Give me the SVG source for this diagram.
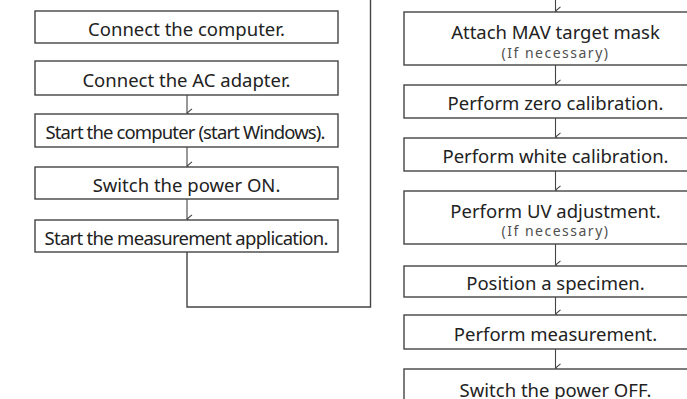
<svg xmlns="http://www.w3.org/2000/svg" width="687" height="399" viewBox="0 0 687 399">
<defs>
<marker id="ah" markerWidth="10" markerHeight="8" refX="5" refY="7" orient="auto" markerUnits="userSpaceOnUse" viewBox="0 0 10 8">
<path d="M0.8,2 L5,7 L9.2,2" fill="none" stroke="#444" stroke-width="1.1"/>
</marker>
</defs>
<style>
.box{fill:#fff;stroke:#444;stroke-width:1.4}
.t{font-family:"Noto Sans",sans-serif;font-size:18.5px;fill:#222;text-anchor:middle}
.s{font-family:"Noto Sans",sans-serif;font-size:14px;fill:#505050;text-anchor:middle;letter-spacing:1.5px}
.c{fill:none;stroke:#444;stroke-width:1.1}
.l{fill:none;stroke:#444;stroke-width:1.4}
</style>
<rect width="687" height="399" fill="#fff"/>
<g id="connectors">
<line class="c" x1="187" y1="95" x2="187" y2="113" marker-end="url(#ah)"/>
<line class="c" x1="187" y1="147" x2="187" y2="166" marker-end="url(#ah)"/>
<line class="c" x1="187" y1="199" x2="187" y2="219" marker-end="url(#ah)"/>
<polyline class="l" points="187,252 187,307 370.5,307 370.5,0"/>
<line class="c" x1="555.5" y1="0" x2="555.5" y2="11" marker-end="url(#ah)"/>
<line class="c" x1="555.5" y1="65" x2="555.5" y2="84" marker-end="url(#ah)"/>
<line class="c" x1="555.5" y1="118" x2="555.5" y2="137" marker-end="url(#ah)"/>
<line class="c" x1="555.5" y1="171" x2="555.5" y2="190" marker-end="url(#ah)"/>
<line class="c" x1="555.5" y1="244" x2="555.5" y2="265" marker-end="url(#ah)"/>
<line class="c" x1="555.5" y1="297" x2="555.5" y2="314" marker-end="url(#ah)"/>
<line class="c" x1="555.5" y1="349" x2="555.5" y2="368" marker-end="url(#ah)"/>
</g>
<g id="n1"><rect class="box" x="35" y="11" width="303" height="32"/><text class="t" x="186.5" y="35.5">Connect the computer.</text></g>
<g id="n2"><rect class="box" x="35" y="61" width="303" height="34"/><text class="t" x="186.5" y="86.7">Connect the AC adapter.</text></g>
<g id="n3"><rect class="box" x="35" y="114" width="303" height="33"/><text class="t" x="185.5" y="139.3" textLength="280" lengthAdjust="spacing">Start the computer (start Windows).</text></g>
<g id="n4"><rect class="box" x="35" y="167" width="303" height="32"/><text class="t" x="186.5" y="191.7">Switch the power ON.</text></g>
<g id="n5"><rect class="box" x="35" y="220" width="303" height="32"/><text class="t" x="186.5" y="244.7" textLength="284" lengthAdjust="spacing">Start the measurement application.</text></g>
<g id="r1"><rect class="box" x="404" y="12" width="303" height="53"/><text class="t" x="555.5" y="39">Attach MAV target mask</text><text class="s" x="555.5" y="57.5">(If necessary)</text></g>
<g id="r2"><rect class="box" x="404" y="85" width="303" height="33"/><text class="t" x="555.5" y="110.2">Perform zero calibration.</text></g>
<g id="r3"><rect class="box" x="404" y="138" width="303" height="33"/><text class="t" x="555.5" y="163.2">Perform white calibration.</text></g>
<g id="r4"><rect class="box" x="404" y="191" width="303" height="53"/><text class="t" x="555.5" y="217.5">Perform UV adjustment.</text><text class="s" x="555.5" y="236">(If necessary)</text></g>
<g id="r5"><rect class="box" x="404" y="266" width="303" height="31"/><text class="t" x="555.5" y="290.2">Position a specimen.</text></g>
<g id="r6"><rect class="box" x="404" y="315" width="303" height="34"/><text class="t" x="555.5" y="340.7">Perform measurement.</text></g>
<g id="r7"><rect class="box" x="404" y="369" width="303" height="40"/><text class="t" x="555.5" y="397">Switch the power OFF.</text></g>
</svg>
